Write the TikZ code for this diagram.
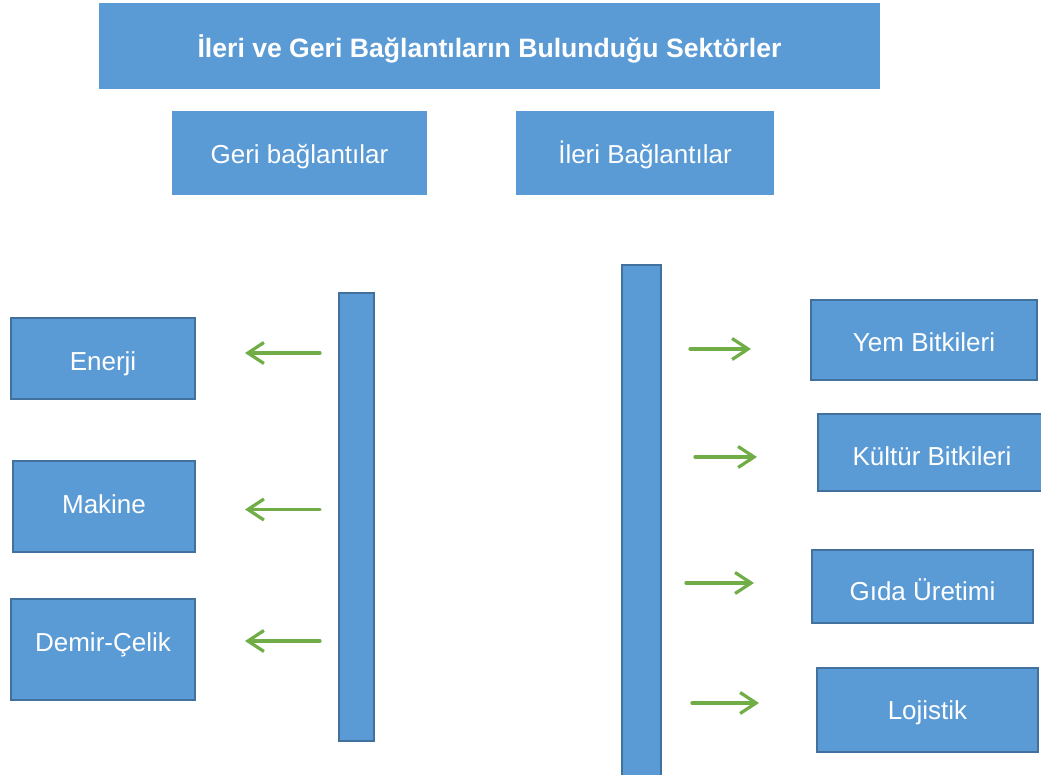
\documentclass[tikz,border=0pt]{standalone}
\usepackage{fontspec}
\setmainfont{Liberation Sans}
\usetikzlibrary{arrows.meta,positioning}
\definecolor{BoxBlue}{RGB}{91,155,213}
\definecolor{EdgeBlue}{RGB}{65,113,156}
\definecolor{ArrowGreen}{RGB}{112,173,71}

\begin{document}
\begin{tikzpicture}[x=0.5pt,y=-0.5pt,>={Straight Barb[length=8pt,width=10.5pt]},
    head/.style={fill=BoxBlue,draw=none,text=white,font=\fontsize{13.3}{15}\selectfont\bfseries,inner sep=0pt,text height=11.5pt,text depth=0pt},
    group/.style={fill=BoxBlue,draw=none,text=white,font=\fontsize{13}{15}\selectfont,inner sep=0pt,text height=11pt,text depth=0pt},
    sector/.style={fill=BoxBlue,draw=EdgeBlue,line width=1pt,text=white,font=\fontsize{13}{15}\selectfont,inner sep=0pt,text height=12pt,text depth=0pt},
    bar/.style={fill=BoxBlue,draw=EdgeBlue,line width=1pt,inner sep=0pt},
    flow/.style={->,ArrowGreen,line width=1.6pt,line cap=round}]
  \clip (0,0) rectangle (1041,775);
  \useasboundingbox (0,0) rectangle (1041,775);
  % titles
  \node[head,minimum width=390.5pt,minimum height=43pt] (title) at (489.5,46) {İleri ve Geri Bağlantıların Bulunduğu Sektörler};
  \node[group,minimum width=127.5pt,minimum height=42pt] (geri) at (299.5,153) {Geri bağlantılar};
  \node[group,minimum width=129pt,minimum height=42pt] (ileri) at (645,153) {İleri Bağlantılar};
  % bars
  \node[bar,minimum width=17.5pt,minimum height=224pt] (lbar) at (356.5,517) {};
  \node[bar,minimum width=19.5pt,minimum height=280pt] (rbar) at (641.5,545) {};
  % backward sectors
  \node[sector,minimum width=92pt,minimum height=40.5pt] (enerji) at (103,358.5) {Enerji};
  \node[sector,minimum width=91pt,minimum height=45.5pt,text height=7.5pt] (makine) at (104,506.5) {Makine};
  \node[sector,minimum width=92pt,minimum height=50.5pt,text height=2pt] (demir) at (103,649.5) {Demir-Çelik};
  % forward sectors
  \node[sector,minimum width=113pt,minimum height=40pt] (yem) at (924,340) {Yem Bitkileri};
  \node[sector,minimum width=114pt,minimum height=38.5pt,text height=13pt] (kultur) at (932,452.5) {Kültür Bitkileri};
  \node[sector,minimum width=110.5pt,minimum height=36.5pt,text height=14pt] (gida) at (922.5,586.5) {Gıda Üretimi};
  \node[sector,minimum width=110.5pt,minimum height=42pt,text height=10pt] (lojistik) at (927.5,710) {Lojistik};
  % arrows
  \foreach \nm/\dy in {enerji/2.75,makine/-1.5,demir/4.25}
    \draw[flow,shorten <=9pt,shorten >=24.5pt] ([yshift=\dy pt]\nm.east -| lbar.west) -- ([yshift=\dy pt]\nm.east);
  \foreach \nm/\dy/\sa/\sb in {yem/-4.5/14/29.5,kultur/-2.25/16.5/30,gida/1.75/12/28.5,lojistik/3.5/15/28.5}
    \draw[flow,shorten <=\sa pt,shorten >=\sb pt] ([yshift=\dy pt]\nm.west -| rbar.east) -- ([yshift=\dy pt]\nm.west);
\end{tikzpicture}
\end{document}
